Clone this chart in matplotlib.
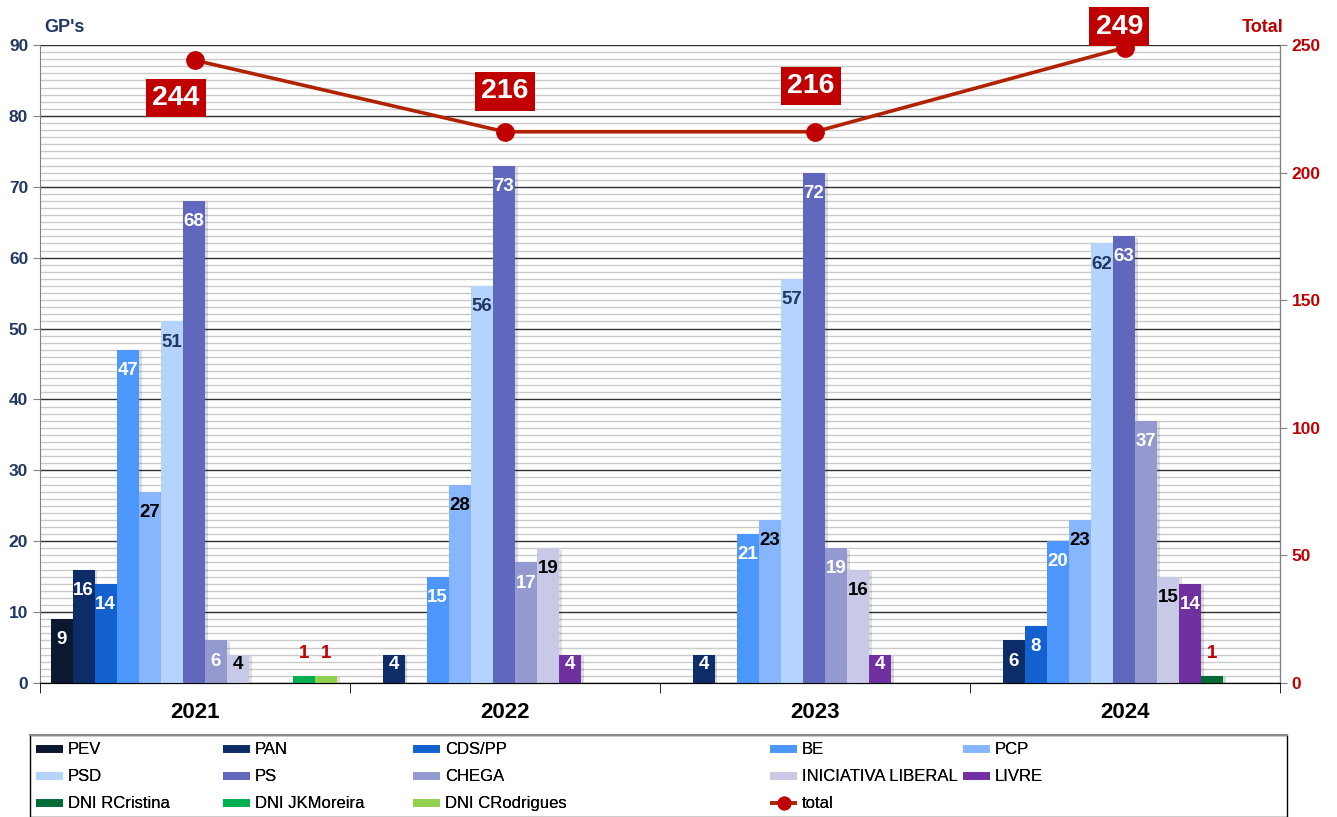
import matplotlib.pyplot as plt
import matplotlib.patheffects as pe
from matplotlib.lines import Line2D
from matplotlib.patches import Rectangle
import numpy as np

plt.rcParams['font.family'] = ['Liberation Sans', 'DejaVu Sans']

years = ['2021', '2022', '2023', '2024']
parties = ['PEV', 'PAN', 'CDS/PP', 'BE', 'PCP', 'PSD', 'PS', 'CHEGA',
           'INICIATIVA LIBERAL', 'LIVRE', 'DNI RCristina', 'DNI JKMoreira',
           'DNI CRodrigues']

pev = [9, 0, 0, 0]
pan = [16, 4, 4, 6]
cds = [14, 0, 0, 8]
be = [47, 15, 21, 20]
pcp = [27, 28, 23, 23]
psd = [51, 56, 57, 62]
ps = [68, 73, 72, 63]
chega = [6, 17, 19, 37]
il = [4, 19, 16, 15]
livre = [0, 4, 4, 14]
dni_rcristina = [0, 0, 0, 1]
dni_jkmoreira = [1, 0, 0, 0]
dni_crodrigues = [1, 0, 0, 0]
total = [244, 216, 216, 249]

series = [pev, pan, cds, be, pcp, psd, ps, chega, il, livre,
          dni_rcristina, dni_jkmoreira, dni_crodrigues]

colors = ['#0a1830', '#0c2d68', '#1360cf', '#4d96fc', '#88b6fc', '#b4d4fd',
          '#6068bd', '#9499d0', '#c8c9e6', '#7030a0', '#006b35', '#00b050',
          '#92d050']
label_colors = ['white', 'white', 'white', 'white', 'black', '#1f3864',
                'white', 'white', 'black', 'white', '#c00000', '#c00000',
                '#c00000']
# offsets of the total labels, in points (dx, dy)
total_offsets = [(-14, -27), (0, 29), (-3, 33), (-4, 15)]

navy = '#1f3864'
red = '#c00000'

fig = plt.figure(figsize=(13.37, 8.17), dpi=100)
ax = fig.add_axes([40 / 1337, 1 - 683 / 817, 1240 / 1337, 638 / 817])
ax2 = ax.twinx()

x = np.arange(len(years))
w = 0.071
shadow = [pe.SimplePatchShadow(offset=(2, -1), alpha=0.15), pe.Normal()]

for i, (vals, c, lc) in enumerate(zip(series, colors, label_colors)):
    xs = x + (i - 6) * w - 0.004
    bars = ax.bar(xs, vals, w, color=c, zorder=3)
    for b in bars:
        b.set_path_effects(shadow)
    for xi, v in zip(xs, vals):
        if v == 0:
            continue
        if lc == red:
            ypos = v + 3.2
        else:
            ypos = max(v - 2.9, 2.6)
        ax.text(xi, ypos, str(v), ha='center', va='center', color=lc,
                fontsize=13.5, fontweight='bold', zorder=5)

ax.set_xlim(-0.5, 3.5)
ax.set_ylim(0, 90)
ax.set_yticks(np.arange(0, 91, 10))
ax.set_yticks(np.arange(0, 91, 1), minor=True)
ax.grid(axis='y', which='minor', color='#cacaca', lw=1.0, zorder=0)
ax.grid(axis='y', which='major', color='#303030', lw=1.0, zorder=1)
ax.set_axisbelow(True)
ax.tick_params(axis='y', which='minor', length=0)
ax.tick_params(axis='y', which='major', length=5, color='#808080',
               labelsize=12.5, labelcolor=navy)
for lab in ax.get_yticklabels():
    lab.set_fontweight('bold')

ax.set_xticks(x)
ax.set_xticklabels(years, fontsize=16, fontweight='bold')
ax.set_xticks(np.arange(-0.5, 3.6, 1), minor=True)
ax.tick_params(axis='x', which='major', length=0, pad=14)
ax.tick_params(axis='x', which='minor', length=7, color='black')

ax.spines['top'].set_visible(False)
ax2.spines['top'].set_visible(False)
ax.spines['left'].set_color('#808080')
ax2.spines['right'].set_color('#808080')
ax2.spines['left'].set_visible(False)
ax.spines['bottom'].set_color('black')

ax2.set_ylim(0, 250)
ax2.set_yticks(np.arange(0, 251, 50))
ax2.tick_params(axis='y', length=5, color='#808080', labelsize=12.5,
                labelcolor=red)
for lab in ax2.get_yticklabels():
    lab.set_fontweight('bold')

ax2.plot(x, total, color='#b02200', lw=2.6, marker='o', markersize=12.5,
         markerfacecolor=red, markeredgecolor=red, zorder=6)
for xi, t, off in zip(x, total, total_offsets):
    ax2.annotate(str(t), (xi, t), xytext=off, textcoords='offset points',
                 ha='center', va='center', color='white', fontsize=20.5,
                 fontweight='bold', zorder=7,
                 bbox=dict(boxstyle='square,pad=0.22', fc=red, ec='none'))

fig.text(44 / 1337, 1 - 27 / 817, "GP's", color=navy, fontsize=13,
         fontweight='bold', ha='left', va='center')
fig.text(1284 / 1337, 1 - 27 / 817, 'Total', color=red, fontsize=13,
         fontweight='bold', ha='right', va='center')

# legend: frame and five columns
fig.patches.append(Rectangle((30 / 1337, 0), 1257 / 1337, 82 / 817,
                             transform=fig.transFigure, fill=False,
                             ec='black', lw=1.0))
fig.lines.append(Line2D([30 / 1337, 1287 / 1337], [82 / 817, 82 / 817],
                        transform=fig.transFigure, color='#8a8a8a', lw=1.5))
handles = [Line2D([], [], color=c, lw=5.5, solid_capstyle='butt')
           for c in colors]
handles.append(Line2D([], [], color='#b02200', lw=2.6, marker='o',
                      markersize=9, markerfacecolor=red, markeredgecolor=red,
                      solid_capstyle='butt'))
labels = parties + ['total']
col_x = [33, 220, 410, 767, 960]
col_idx = [[0, 5, 10], [1, 6, 11], [2, 7, 12], [3, 8, 13], [4, 9]]
for cx, idx in zip(col_x, col_idx):
    leg = fig.legend([handles[k] for k in idx], [labels[k] for k in idx],
                     loc='upper left',
                     bbox_to_anchor=(cx / 1337, 1 - 739 / 817),
                     frameon=False, handlelength=1.6,
                     handletextpad=0.3, labelspacing=0.72, borderpad=0.2,
                     borderaxespad=0,
                     prop={'family': ['Liberation Sans'], 'size': 12})
    fig.add_artist(leg)

fig.savefig('out.png', dpi=100)
